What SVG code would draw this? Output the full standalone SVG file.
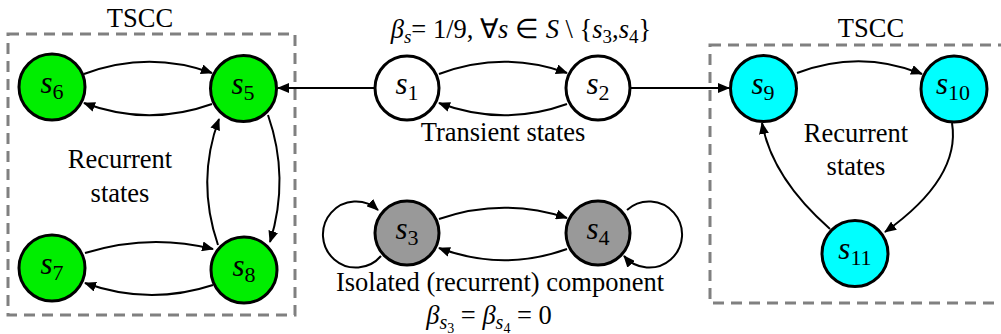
<svg xmlns="http://www.w3.org/2000/svg" width="1001" height="334" viewBox="0 0 1001 334">
<defs>
<marker id="ah" markerUnits="userSpaceOnUse" markerWidth="12" markerHeight="10" refX="11" refY="5" orient="auto">
<path d="M0,0 L12,5 L0,10 z" fill="#000"/>
</marker>
<style>
.t{font-family:"Liberation Serif","Times New Roman",serif;font-size:26.5px;fill:#000}
.n{stroke:#000;stroke-width:3}
.g{fill:#00ee00}
.c{fill:#00ffff}
.w{fill:#fff}
.k{fill:#999}
.lbl{font-family:"Liberation Serif","Times New Roman",serif;font-size:31px;fill:#000}
.i{font-style:italic}
.sub{font-size:22px}
.e{fill:none;stroke:#000;stroke-width:2;marker-end:url(#ah)}
.box{fill:none;stroke:#808080;stroke-width:3;stroke-dasharray:11 7}
</style>
</defs>
<rect class="box" x="8" y="34" width="287" height="281"/>
<rect class="box" x="710" y="45" width="310" height="258"/>
<text class="t" x="140" y="27" text-anchor="middle">TSCC</text>
<text class="t" x="871" y="37" text-anchor="middle">TSCC</text>
<text class="t" x="120" y="168" text-anchor="middle">Recurrent</text>
<text class="t" x="120" y="202" text-anchor="middle">states</text>
<text class="t" x="856" y="142" text-anchor="middle">Recurrent</text>
<text class="t" x="856" y="175" text-anchor="middle">states</text>
<text class="t" x="503" y="141" text-anchor="middle">Transient states</text>
<text class="t" x="500" y="291" text-anchor="middle">Isolated (recurrent) component</text>
<text class="t" x="521" y="38" text-anchor="middle" font-size="28.5"><tspan class="i">β</tspan><tspan class="i" font-size="19" dy="5">s</tspan><tspan dy="-5">= 1/9, ∀</tspan><tspan class="i">s</tspan><tspan> ∈ </tspan><tspan class="i">S</tspan><tspan> \ {</tspan><tspan class="i">s</tspan><tspan font-size="19" dy="5">3</tspan><tspan dy="-5">,</tspan><tspan class="i">s</tspan><tspan font-size="19" dy="5">4</tspan><tspan dy="-5">}</tspan></text>
<text class="t" x="489" y="324" text-anchor="middle"><tspan class="i">β</tspan><tspan class="i" font-size="20" dy="5">s</tspan><tspan font-size="14" dy="4">3</tspan><tspan dy="-9"> = </tspan><tspan class="i">β</tspan><tspan class="i" font-size="20" dy="5">s</tspan><tspan font-size="14" dy="4">4</tspan><tspan dy="-9"> = 0</tspan></text>
<g id="connectors">
<path class="e" d="M84,74 Q148,50 212,73"/>
<path class="e" d="M212,104 Q148,127 84,103"/>
<path class="e" d="M85,253 Q149,233 213,249"/>
<path class="e" d="M213,285 Q149,306 85,283"/>
<path class="e" d="M218,245 Q196,181 219,119"/>
<path class="e" d="M268,115 Q290,178 270,242"/>
<path class="e" d="M375,88 L278,88"/>
<path class="e" d="M439,74 Q503,50 567,73"/>
<path class="e" d="M567,104 Q503,127 439,103"/>
<path class="e" d="M630,88 L729,88"/>
<path class="e" d="M439,219 Q503,197 567,218"/>
<path class="e" d="M567,249 Q503,272 439,248"/>
<path class="e" d="M381,256 A33,33 0 1 1 378,210"/>
<path class="e" d="M627,210 A33,33 0 1 1 624,256"/>
<path class="e" d="M797,73 Q860,49 922,74"/>
<path class="e" d="M952,123 Q961,178 885,232"/>
<path class="e" d="M830,229 Q772,178 762,123"/>
</g>
<g id="s1"><circle class="n w" cx="407" cy="88" r="32"/><text class="lbl" x="407" y="94" text-anchor="middle"><tspan class="i">s</tspan><tspan class="sub" dy="6">1</tspan></text></g>
<g id="s2"><circle class="n w" cx="598" cy="88" r="32"/><text class="lbl" x="598" y="94" text-anchor="middle"><tspan class="i">s</tspan><tspan class="sub" dy="6">2</tspan></text></g>
<g id="s3"><circle class="n k" cx="407" cy="233" r="32"/><text class="lbl" x="407" y="239" text-anchor="middle"><tspan class="i">s</tspan><tspan class="sub" dy="6">3</tspan></text></g>
<g id="s4"><circle class="n k" cx="598" cy="233" r="32"/><text class="lbl" x="598" y="239" text-anchor="middle"><tspan class="i">s</tspan><tspan class="sub" dy="6">4</tspan></text></g>
<g id="s5"><circle class="n g" cx="243.5" cy="88.5" r="33"/><text class="lbl" x="243" y="94" text-anchor="middle"><tspan class="i">s</tspan><tspan class="sub" dy="6">5</tspan></text></g>
<g id="s6"><circle class="n g" cx="52" cy="87" r="33"/><text class="lbl" x="52" y="93" text-anchor="middle"><tspan class="i">s</tspan><tspan class="sub" dy="6">6</tspan></text></g>
<g id="s7"><circle class="n g" cx="52" cy="268" r="33"/><text class="lbl" x="52" y="274" text-anchor="middle"><tspan class="i">s</tspan><tspan class="sub" dy="6">7</tspan></text></g>
<g id="s8"><circle class="n g" cx="244" cy="270" r="33"/><text class="lbl" x="244" y="276" text-anchor="middle"><tspan class="i">s</tspan><tspan class="sub" dy="6">8</tspan></text></g>
<g id="s9"><circle class="n c" cx="763.5" cy="88.5" r="33"/><text class="lbl" x="763" y="94" text-anchor="middle"><tspan class="i">s</tspan><tspan class="sub" dy="6">9</tspan></text></g>
<g id="s10"><circle class="n c" cx="954" cy="89" r="33"/><text class="lbl" x="953" y="94" text-anchor="middle"><tspan class="i">s</tspan><tspan class="sub" dy="6">10</tspan></text></g>
<g id="s11"><circle class="n c" cx="855" cy="253.5" r="33"/><text class="lbl" x="855" y="259" text-anchor="middle"><tspan class="i">s</tspan><tspan class="sub" dy="6">11</tspan></text></g>
</svg>
